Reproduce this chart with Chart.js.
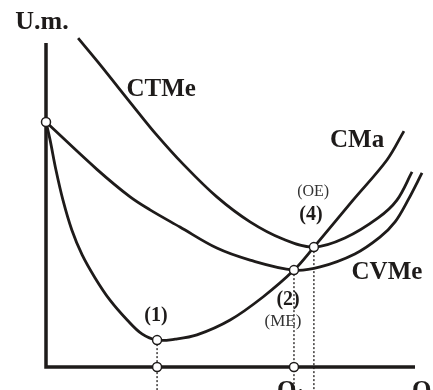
<!DOCTYPE html>
<html>
<head>
<meta charset="utf-8">
<script src="https://cdn.jsdelivr.net/npm/chart.js@4/dist/chart.umd.min.js"></script>
<style>
  body { margin: 0; background: #fff; }
  canvas { display: block; }
</style>
</head>
<body>
<canvas id="costChart" width="433" height="390"></canvas>
<script>
// curvas de costes (Q en 0..100, U.m. en 0..100)
const cma = [[0,75.6],[1.1,70.1],[2.7,60.8],[4.6,51.5],[7.0,42.3],[9.8,34.6],[13.3,27.5],[17.3,20.7],[22.0,14.5],[26.0,10.2],[30.1,8.3],[35.0,8.6],[40.9,9.9],[49.9,14.5],[58.8,21.6],[67.2,29.9],[72.6,37.0],[83.2,51.5],[92.4,63.9],[97.0,72.8]];
const cvme = [[0,75.6],[13.8,61.0],[22.8,52.5],[28.2,48.5],[36.3,43.2],[46.3,36.7],[55.3,33.0],[67.2,29.9],[74.3,30.9],[83.7,34.9],[90.5,40.1],[94.6,44.8],[98.1,51.5],[101.9,59.9]];
const ctme = [[8.7,101.5],[14.1,94.1],[19.5,86.4],[24.7,79.0],[29.8,71.9],[37.1,62.7],[46.3,52.5],[55.3,44.8],[64.2,39.5],[72.6,37.0],[81.0,39.8],[90.0,46.0],[95.1,51.5],[99.2,60.2]];

// puntos marcados: (1) mínimo CMa, (2) mínimo de explotación, (4) óptimo de explotación
const marks = [[0,75.6],[30.1,8.3],[30.1,0],[67.2,29.9],[67.2,0],[72.6,37.0]];
const drops = [[30.1,8.3],[67.2,29.9],[72.6,37.0]];
const dropEnd = -8;

const ink = '#1e1b1a';
const toXY = arr => arr.map(p => ({ x: p[0], y: p[1] }));

const curve = (label, pts) => ({
    label: label,
    data: toXY(pts),
    borderColor: ink,
    borderWidth: 2.8,
    pointRadius: 0,
    tension: 0.35,
    fill: false,
    clip: false,
    order: 2
});

const datasets = [
    {
        label: 'puntos',
        type: 'scatter',
        data: toXY(marks),
        pointRadius: 4.5,
        pointBackgroundColor: '#fff',
        pointBorderColor: ink,
        pointBorderWidth: 1.5,
        showLine: false,
        clip: false,
        order: 0
    },
    curve('CMa', cma),
    curve('CVMe', cvme),
    curve('CTMe', ctme)
];

// líneas punteadas hasta el eje Q
drops.forEach(d => {
    datasets.push({
        label: 'drop',
        data: [{ x: d[0], y: d[1] }, { x: d[0], y: dropEnd }],
        borderColor: ink,
        borderWidth: 1.3,
        borderDash: [2, 2],
        pointRadius: 0,
        fill: false,
        clip: false,
        order: 3
    });
});

// textos del gráfico (posición en unidades de los ejes)
const texts = [
    { t: 'U.m.', x: -1.1, y: 106.5, font: 'bold 26px "Liberation Serif"' },
    { t: 'CTMe', x: 31.2, y: 85.5, font: 'bold 25px "Liberation Serif"' },
    { t: 'CMa', x: 84.3, y: 69.8, font: 'bold 25px "Liberation Serif"' },
    { t: 'CVMe', x: 92.4, y: 29.3, font: 'bold 25px "Liberation Serif"' },
    { t: '(OE)', x: 72.4, y: 54.0, font: '16px "Liberation Serif"', color: '#333' },
    { t: '(4)', x: 71.8, y: 46.9, font: 'bold 20px "Liberation Serif"' },
    { t: '(2)', x: 65.6, y: 20.7, font: 'bold 20px "Liberation Serif"' },
    { t: '(ME)', x: 64.2, y: 13.9, font: '17px "Liberation Serif"', color: '#333' },
    { t: '(1)', x: 29.8, y: 15.7, font: 'bold 20px "Liberation Serif"' }
];

const axesAndText = {
    id: 'axesAndText',
    beforeDatasetsDraw(chart) {
        const { ctx, chartArea: a } = chart;
        ctx.save();
        ctx.strokeStyle = ink;
        ctx.lineWidth = 3.5;
        ctx.beginPath();
        ctx.moveTo(a.left, a.top);
        ctx.lineTo(a.left, a.bottom);
        ctx.lineTo(a.right, a.bottom);
        ctx.stroke();
        ctx.restore();
    },
    afterDatasetsDraw(chart) {
        const { ctx, scales: { x, y } } = chart;
        ctx.save();
        ctx.textAlign = 'center';
        ctx.textBaseline = 'middle';
        texts.forEach(l => {
            ctx.font = l.font;
            ctx.fillStyle = l.color || ink;
            ctx.fillText(l.t, x.getPixelForValue(l.x), y.getPixelForValue(l.y));
        });
        // Q1 y Q bajo el eje (cortados por el borde)
        const base = y.getPixelForValue(-9.6);
        ctx.textAlign = 'left';
        ctx.textBaseline = 'alphabetic';
        ctx.fillStyle = ink;
        ctx.font = 'bold 25px "Liberation Serif"';
        const qx = x.getPixelForValue(62.6);
        ctx.fillText('Q', qx, base);
        const qw = ctx.measureText('Q').width;
        ctx.font = 'bold 18px "Liberation Serif"';
        ctx.fillText('1', qx + qw - 1, base + 4);
        ctx.font = 'bold 25px "Liberation Serif"';
        ctx.fillText('Q', x.getPixelForValue(99.2), base);
        ctx.restore();
    }
};

new Chart(document.getElementById('costChart').getContext('2d'), {
    type: 'line',
    data: { datasets: datasets },
    options: {
        responsive: false,
        animation: false,
        layout: { padding: { left: 46, right: 18, top: 43, bottom: 23 } },
        plugins: {
            legend: { display: false },
            tooltip: { enabled: false }
        },
        scales: {
            x: { type: 'linear', min: 0, max: 100, display: false },
            y: { type: 'linear', min: 0, max: 100, display: false }
        }
    },
    plugins: [axesAndText]
});
</script>
</body>
</html>
